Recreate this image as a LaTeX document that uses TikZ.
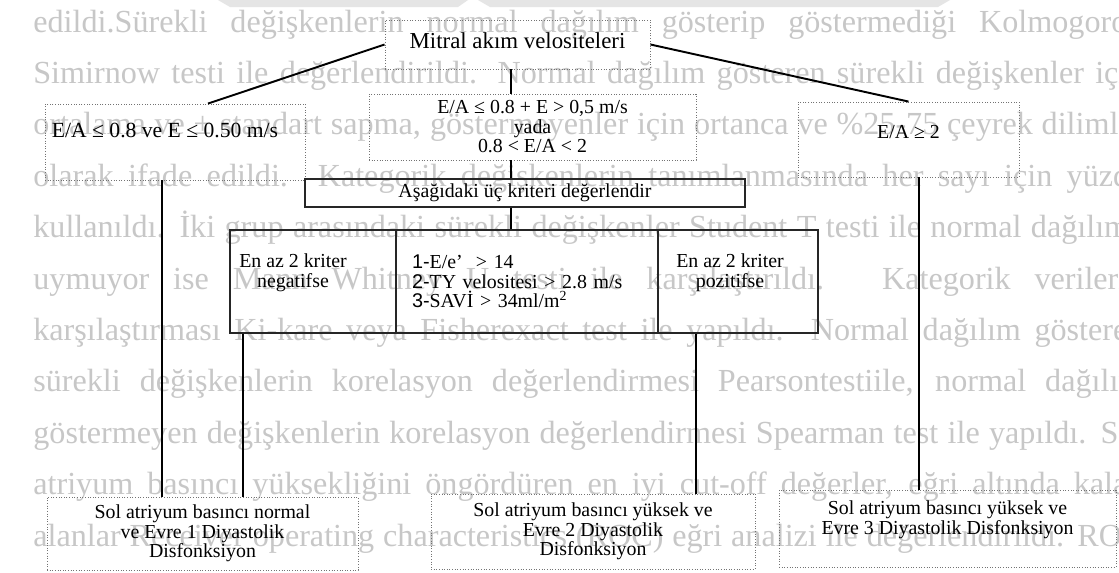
\documentclass[tikz,border=0pt]{standalone}
\usepackage{fontspec}
\setmainfont{Liberation Serif}
\newfontfamily\numfont{Liberation Sans}
\newlength\pxu
\setlength\pxu{0.02cm}

\begin{document}
\begin{tikzpicture}[x=0.02cm, y=-0.02cm,
  dotbox/.style={draw=black!55, densely dotted, line width=0.5pt, inner sep=0pt, align=center, font=\fontsize{11.3}{0.39cm}\selectfont},
  solidbox/.style={draw=black!85, line width=0.6pt, inner sep=0pt, align=center, font=\fontsize{11.3}{0.39cm}\selectfont},
  conn/.style={line width=1.1pt, black},
  bgline/.style={anchor=base west, inner sep=0pt, text=black!22, font=\fontsize{18.3}{20}\selectfont}]

  % Page
  \useasboundingbox (0,0) rectangle (1119,572);
  \clip (0,0) rectangle (1119,572);
  \fill[white] (0,0) rectangle (1119,572);

  % Watermark pieces at the top
  \fill[black!10] (218,0) -- (468,0) -- (458,7) -- (230,7) -- cycle;
  \fill[black!10] (478,0) -- (950,0) -- (938,7) -- (490,7) -- cycle;

  % Page text behind the chart
  \node[bgline] (satir1) at (33,32) {\makebox[1110\pxu][s]{edildi.Sürekli değişkenlerin normal dağılım gösterip göstermediği Kolmogorov}};
  \node[bgline] (satir2) at (33,83.4) {\makebox[1110\pxu][s]{Simirnow testi ile değerlendirildi. Normal dağılım gösteren sürekli değişkenler için}};
  \node[bgline] (satir3) at (33,134.8) {\makebox[1110\pxu][s]{ortalama ve ± standart sapma, göstermeyenler için ortanca ve \%25-75 çeyrek dilimler}};
  \node[bgline] (satir4) at (33,186.2) {\makebox[1110\pxu][s]{olarak ifade edildi. Kategorik değişkenlerin tanımlanmasında her sayı için yüzde}};
  \node[bgline] (satir5) at (33,237.6) {\makebox[1110\pxu][s]{kullanıldı. İki grup arasındaki sürekli değişkenler Student T testi ile normal dağılıma}};
  \node[bgline] (satir6) at (33,289) {\makebox[1110\pxu][s]{uymuyor ise Mann Whitney U testi ile karşılaştırıldı. Kategorik verilerin}};
  \node[bgline] (satir7) at (33,340.4) {\makebox[1110\pxu][s]{karşılaştırması Ki-kare veya Fisherexact test ile yapıldı. Normal dağılım gösteren}};
  \node[bgline] (satir8) at (33,391.8) {\makebox[1110\pxu][s]{sürekli değişkenlerin korelasyon değerlendirmesi Pearsontestiile, normal dağılım}};
  \node[bgline] (satir9) at (33,443.2) {\makebox[1110\pxu][s]{göstermeyen değişkenlerin korelasyon değerlendirmesi Spearman test ile yapıldı. Sol}};
  \node[bgline] (satir10) at (33,494.6) {\makebox[1110\pxu][s]{atriyum basıncı yüksekliğini öngördüren en iyi cut-off değerler, eğri altında kalan}};
  \node[bgline] (satir11) at (33,546) {\makebox[1110\pxu][s]{alanlar Receiver operating characteristics (ROC) eğri analizi ile değerlendirildi. ROC}};

  % Boxes
  \node[dotbox, minimum width=265\pxu, minimum height=49\pxu, font=\fontsize{13}{15}\selectfont] (mitral) at (517.5,44.5) {\raisebox{4\pxu}[\height][\depth]{Mitral akım velositeleri}};
  \node[dotbox, minimum width=327\pxu, minimum height=66\pxu] (orta) at (532.5,127) {E/A ≤ 0.8 + E > 0,5 m/s\\yada\\0.8 < E/A < 2};
  \node[dotbox, minimum width=260\pxu, minimum height=76\pxu, font=\fontsize{12.3}{14}\selectfont] (sol) at (175,142) {\hspace*{-20\pxu}\raisebox{12\pxu}[\height][\depth]{E/A ≤ 0.8 ve E ≤ 0.50 m/s}};
  \node[dotbox, minimum width=221\pxu, minimum height=75\pxu] (sag) at (908.5,139.5) {\raisebox{7\pxu}[\height][\depth]{E/A ≥ 2}};
  \node[solidbox, minimum width=440\pxu, minimum height=28\pxu] (kriter) at (525,193) {Aşağıdaki üç kriteri değerlendir};

  % Criteria row
  \node[solidbox, minimum width=166\pxu, minimum height=103\pxu] (negatif) at (313,281.5) {\hspace*{-40\pxu}\raisebox{8\pxu}[\height][\depth]{\begin{tabular}{@{}c@{}}En az 2 kriter\\negatifse\end{tabular}}};
  \node[solidbox, minimum height=103\pxu, inner xsep=16\pxu, text width=230\pxu, align=left] (kosul) at (527,281.5) {{\numfont 1-}E/e’ \ > 14\\{\numfont 2-}TY velositesi > 2.8 m/s\\{\numfont 3-}SAVİ > 34ml/m\textsuperscript{2}};
  \node[solidbox, minimum width=160\pxu, minimum height=103\pxu] (pozitif) at (738,281.5) {\hspace*{-16\pxu}\raisebox{8\pxu}[\height][\depth]{\begin{tabular}{@{}c@{}}En az 2 kriter\\pozitifse\end{tabular}}};

  % Results
  \node[dotbox, minimum width=311\pxu, minimum height=73\pxu] (evre1) at (202.5,533.5) {Sol atriyum basıncı normal\\ve Evre 1 Diyastolik\\Disfonksiyon};
  \node[dotbox, minimum width=324\pxu, minimum height=75\pxu] (evre2) at (593,531.5) {Sol atriyum basıncı yüksek ve\\Evre 2 Diyastolik\\Disfonksiyon};
  \node[dotbox, minimum width=337\pxu, minimum height=77\pxu] (evre3) at (947.5,528.5) {\raisebox{8\pxu}[\height][\depth]{\begin{tabular}{@{}c@{}}Sol atriyum basıncı yüksek ve\\Evre 3 Diyastolik Disfonksiyon\end{tabular}}};

  % Connectors
  \coordinate (spine) at (511,0);
  \coordinate (k1) at (162,0);
  \coordinate (k2) at (243,0);
  \coordinate (k3) at (696,0);
  \coordinate (k4) at (919,0);
  \draw[conn] (mitral.west) -- ([xshift=33\pxu]sol.north);
  \draw[conn] (mitral.east) -- (sag.north);
  \draw[conn] (mitral.south -| spine) -- (orta.north -| spine);
  \draw[conn] (orta.south -| spine) -- (kriter.north -| spine);
  \draw[conn] (kriter.south -| spine) -- (kosul.north -| spine);
  \draw[conn] (sol.south -| k1) -- (evre1.north -| k1);
  \draw[conn] (negatif.south -| k2) -- (evre1.north -| k2);
  \draw[conn] (pozitif.south -| k3) -- (evre2.north -| k3);
  \draw[conn] (sag.south -| k4) -- (evre3.north -| k4);

\end{tikzpicture}
\end{document}
